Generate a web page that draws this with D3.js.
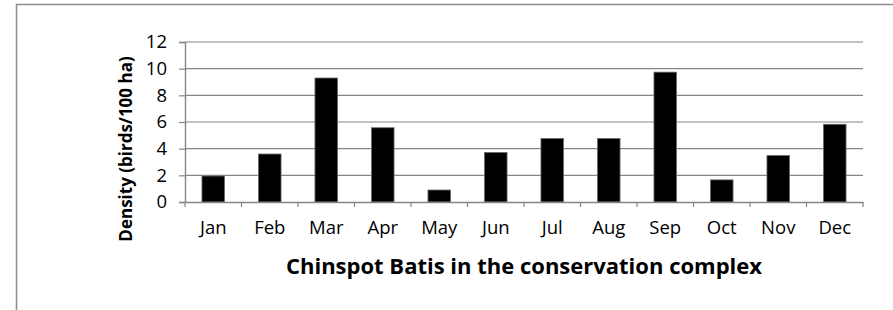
<!DOCTYPE html>
<html>
<head>
<meta charset="utf-8">
<script src="https://cdn.jsdelivr.net/npm/d3@7"></script>
<style>
  body { margin: 0; background: #fff; }
  svg { display: block; font-family: "Open Sans", sans-serif; }
</style>
</head>
<body>
<div id="chart"></div>
<script>
// chart data
const months = ["Jan", "Feb", "Mar", "Apr", "May", "Jun", "Jul", "Aug", "Sep", "Oct", "Nov", "Dec"];
const density = [1.95, 3.6, 9.3, 5.57, 0.9, 3.72, 4.77, 4.77, 9.74, 1.66, 3.49, 5.83];
const yTicks = [0, 2, 4, 6, 8, 10, 12];
const title = "Chinspot Batis in the conservation complex";
const yLabel = "Density (birds/100 ha)";

const width = 893;
const height = 310;
const margin = {top: 42, left: 185, right: 30, bottom: 108};

const svg = d3.select("#chart")
    .append("svg")
    .attr("width", width)
    .attr("height", height);

// outer frame (top and left edges only are visible)
svg.append("path")
    .attr("d", `M16.5,${height} V4.5 H${width}`)
    .attr("fill", "none")
    .attr("stroke", "#8c8c8c")
    .attr("stroke-width", 1.5);

const xScale = d3.scaleBand()
    .domain(months)
    .range([margin.left, width - margin.right])
    .paddingInner(0.6)
    .paddingOuter(0.3);

const yScale = d3.scaleLinear()
    .domain([0, 12])
    .range([height - margin.bottom, margin.top]);

const gridColor = "#868686";

// gridlines
svg.append("g")
    .selectAll("line")
    .data(yTicks.filter(d => d > 0))
    .enter()
    .append("line")
    .attr("x1", margin.left)
    .attr("x2", width - margin.right)
    .attr("y1", d => yScale(d))
    .attr("y2", d => yScale(d))
    .attr("stroke", gridColor)
    .attr("stroke-width", 1.2);

// bars
svg.append("g")
    .selectAll("rect")
    .data(density)
    .enter()
    .append("rect")
    .attr("x", (d, i) => xScale(months[i]))
    .attr("y", d => yScale(d))
    .attr("width", xScale.bandwidth())
    .attr("height", d => yScale(0) - yScale(d))
    .attr("fill", "#000")
    .attr("stroke", "#6e6e6e")
    .attr("stroke-width", 0.8);

// y axis
const yAxis = svg.append("g")
    .attr("transform", `translate(${margin.left},0)`)
    .call(d3.axisLeft(yScale).tickValues(yTicks).tickSize(6).tickPadding(12));

// x axis (labels at band centres)
const xAxis = svg.append("g")
    .attr("transform", `translate(0,${height - margin.bottom})`)
    .call(d3.axisBottom(xScale).tickSize(0).tickPadding(19));

// x boundary ticks
const step = xScale.step();
const x0 = margin.left;
svg.append("g")
    .selectAll("line")
    .data(d3.range(months.length + 1))
    .enter()
    .append("line")
    .attr("x1", i => x0 + i * step)
    .attr("x2", i => x0 + i * step)
    .attr("y1", yScale(0))
    .attr("y2", yScale(0) + 5)
    .attr("stroke", gridColor)
    .attr("stroke-width", 1.2);

[xAxis, yAxis].forEach(ax => {
    ax.select(".domain").attr("stroke", gridColor).attr("stroke-width", 1.4);
    ax.selectAll(".tick line").attr("stroke", gridColor).attr("stroke-width", 1.2);
    ax.selectAll("text")
        .attr("fill", "#000")
        .style("font-family", "'Open Sans', sans-serif")
        .style("font-size", "18.5px");
});

// axis titles
svg.append("text")
    .attr("x", (margin.left + width - margin.right) / 2)
    .attr("y", 274)
    .attr("text-anchor", "middle")
    .style("font-size", "22px")
    .style("font-weight", "bold")
    .text(title);

svg.append("text")
    .attr("transform", "translate(132,149) rotate(-90)")
    .attr("text-anchor", "middle")
    .style("font-size", "17px")
    .style("font-weight", "bold")
    .text(yLabel);
</script>
</body>
</html>
